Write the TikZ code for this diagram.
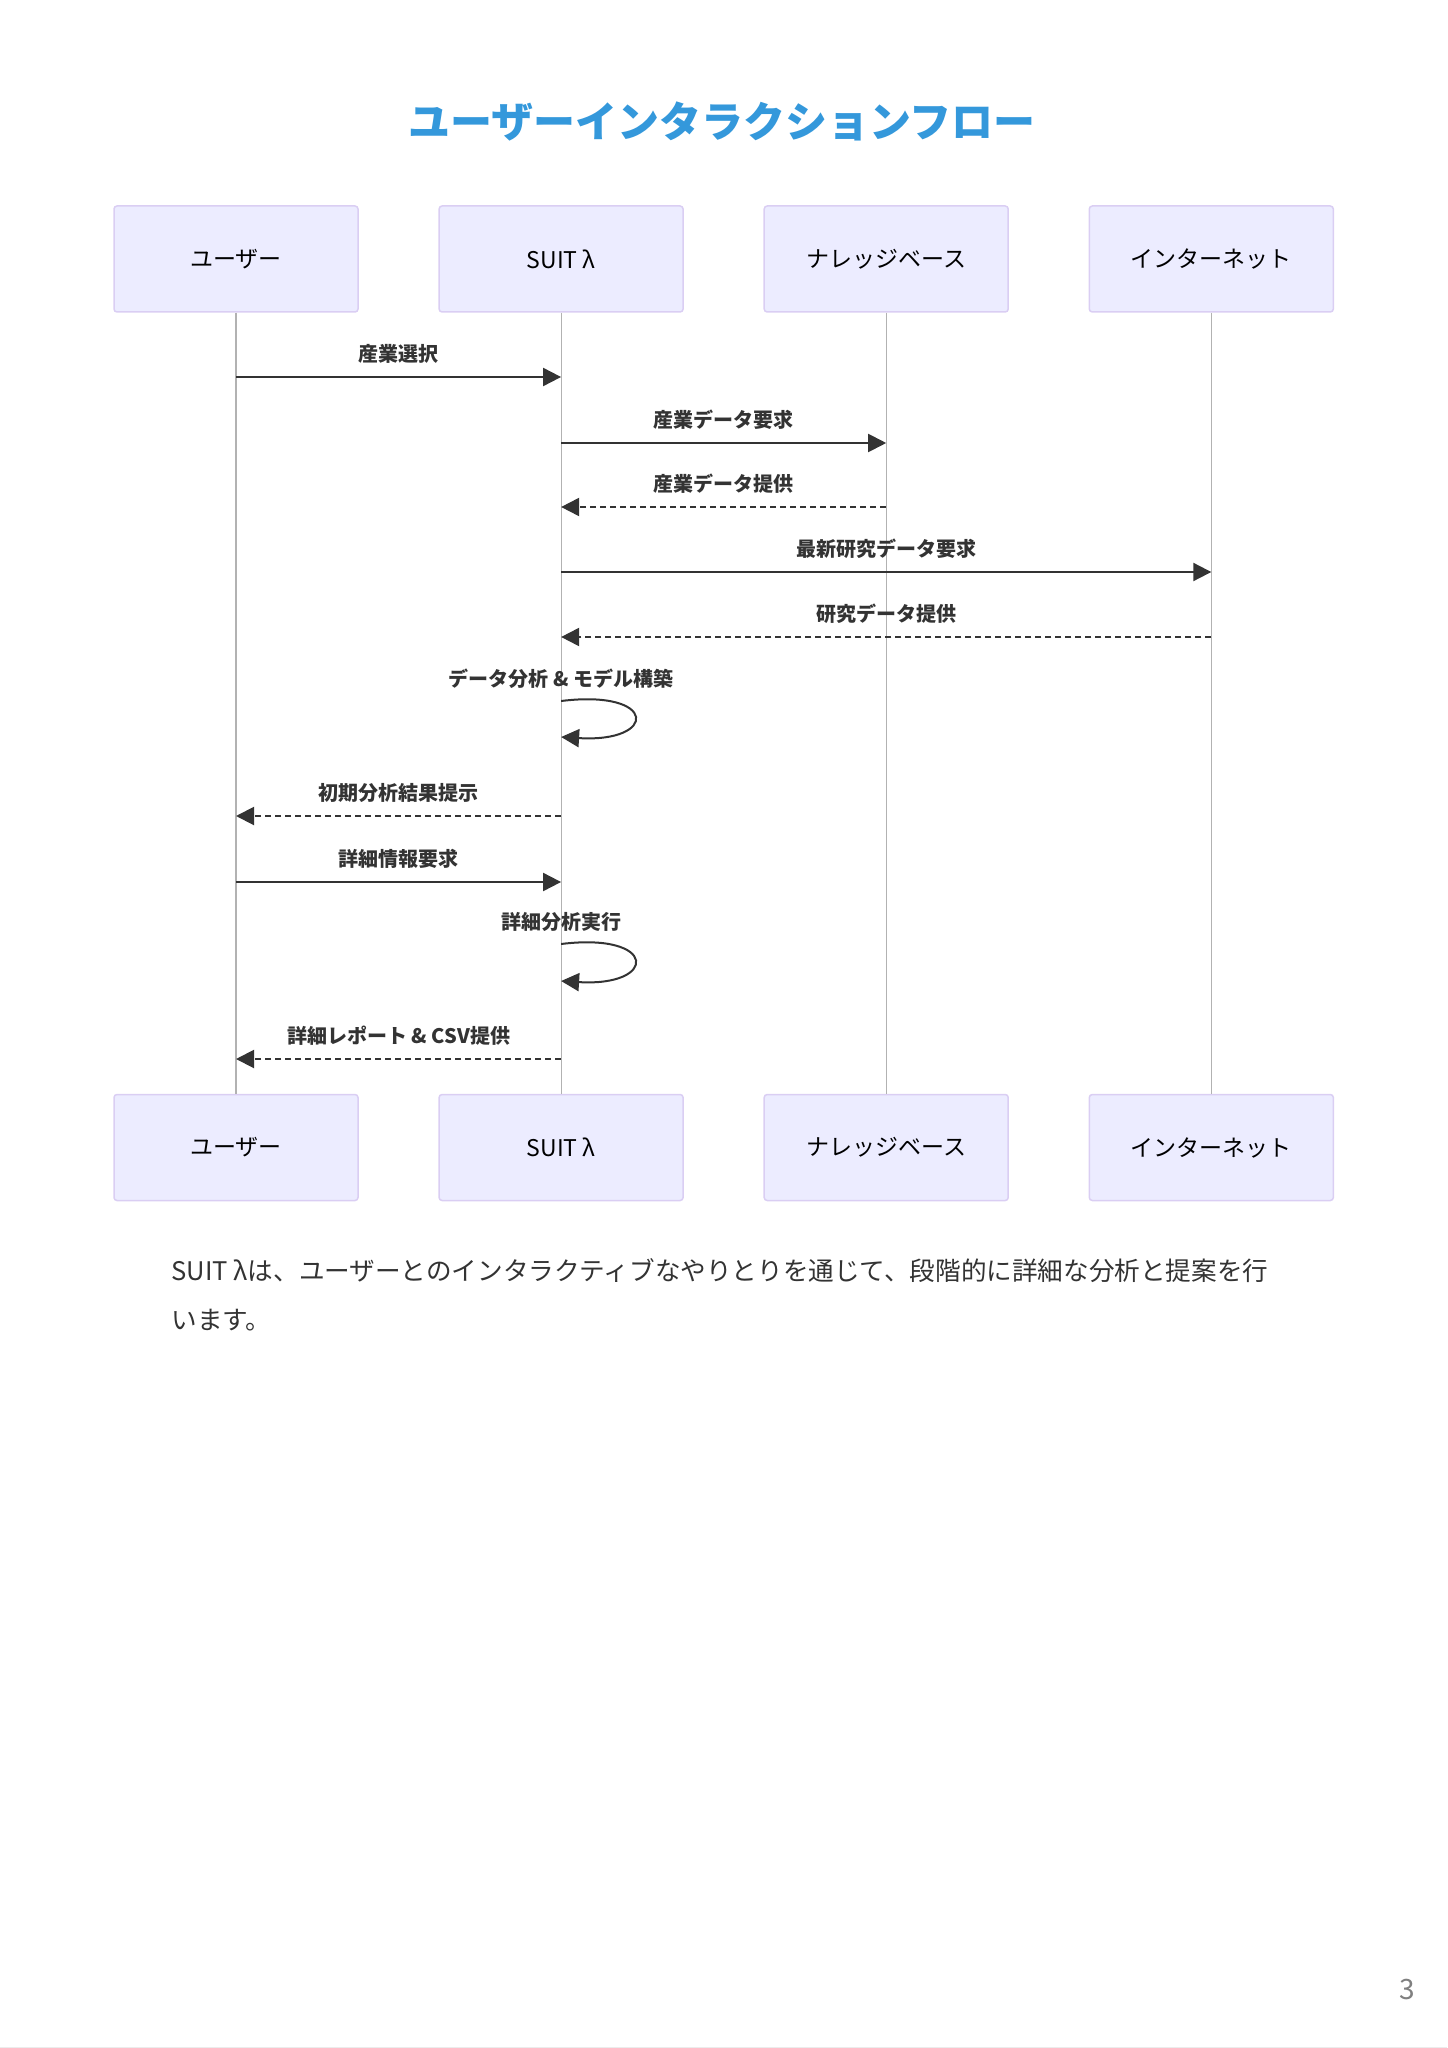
\documentclass[tikz,border=0pt]{standalone}
\usepackage{fontspec}
\setmainfont{Noto Sans CJK JP}
\usetikzlibrary{positioning, arrows.meta}
\definecolor{titleblue}{RGB}{52,152,219}
\definecolor{actorfill}{RGB}{236,236,255}
\definecolor{actorline}{RGB}{218,206,243}
\definecolor{msgcolor}{RGB}{51,51,51}

\begin{document}
\begin{tikzpicture}[x=0.5pt, y=-0.5pt,
        actor/.style={draw=actorline, fill=actorfill, line width=0.75pt, rounded corners=1.5pt,
            minimum width=122pt, minimum height=53pt, font=\fontsize{11.5pt}{14pt}\selectfont},
        lifeline/.style={draw=gray!60, line width=0.6pt},
        msg/.style={draw=msgcolor, line width=1pt, -{Triangle[length=9pt,width=9pt]}},
        reply/.style={msg, dash pattern=on 3pt off 2pt},
        msgtext/.style={font=\bfseries\fontsize{10pt}{12pt}\selectfont, text=msgcolor, yshift=11.5pt}]
        \useasboundingbox (0,0) rectangle (1447,2048);
        \node[font=\bfseries\fontsize{21pt}{25pt}\selectfont, text=titleblue] (t) at (722,121){ユーザーインタラクションフロー};
        \node[actor] (n1) at (236,259){ユーザー};
        \node[actor, right=39.8pt of n1] (n2){SUIT λ};
        \node[actor, right=39.8pt of n2] (n3){ナレッジベース};
        \node[actor, right=39.8pt of n3] (n4){インターネット};
        \node[actor, below=390.5pt of n1] (n5){ユーザー};
        \node[actor, below=390.5pt of n2] (n6){SUIT λ};
        \node[actor, below=390.5pt of n3] (n7){ナレッジベース};
        \node[actor, below=390.5pt of n4] (n8){インターネット};
        \draw[lifeline] (n1) -- (n5);
        \draw[lifeline] (n2) -- (n6);
        \draw[lifeline] (n3) -- (n7);
        \draw[lifeline] (n4) -- (n8);
        \coordinate (m1a) at (n1 |- 0,377); \coordinate (m1b) at (n2 |- 0,377);
        \coordinate (m2a) at (n2 |- 0,443); \coordinate (m2b) at (n3 |- 0,443);
        \coordinate (m3a) at (n3 |- 0,507); \coordinate (m3b) at (n2 |- 0,507);
        \coordinate (m4a) at (n2 |- 0,572); \coordinate (m4b) at (n4 |- 0,572);
        \coordinate (m5a) at (n4 |- 0,637); \coordinate (m5b) at (n2 |- 0,637);
        \coordinate (m6a) at (n2 |- 0,701); \coordinate (m6b) at (n2 |- 0,737);
        \coordinate (m7a) at (n2 |- 0,816); \coordinate (m7b) at (n1 |- 0,816);
        \coordinate (m8a) at (n1 |- 0,882); \coordinate (m8b) at (n2 |- 0,882);
        \coordinate (m9a) at (n2 |- 0,944); \coordinate (m9b) at (n2 |- 0,981);
        \coordinate (m10a) at (n2 |- 0,1059); \coordinate (m10b) at (n1 |- 0,1059);
        \draw[msg] (m1a) -- node[msgtext] (l1){産業選択} (m1b);
        \draw[msg] (m2a) -- node[msgtext] (l2){産業データ要求} (m2b);
        \draw[reply] (m3a) -- node[msgtext] (l3){産業データ提供} (m3b);
        \draw[msg] (m4a) -- node[msgtext] (l4){最新研究データ要求} (m4b);
        \draw[reply] (m5a) -- node[msgtext] (l5){研究データ提供} (m5b);
        \node[msgtext, yshift=-0.5pt] (l6) at (m6a){データ分析 \& モデル構築};
        \draw[msg] (m6a) .. controls +(97,-12) and +(97,6) .. (m6b);
        \draw[reply] (m7a) -- node[msgtext] (l7){初期分析結果提示} (m7b);
        \draw[msg] (m8a) -- node[msgtext] (l8){詳細情報要求} (m8b);
        \node[msgtext, yshift=-0.5pt] (l9) at (m9a){詳細分析実行};
        \draw[msg] (m9a) .. controls +(97,-12) and +(97,6) .. (m9b);
        \draw[reply] (m10a) -- node[msgtext] (l10){詳細レポート \& CSV提供} (m10b);
        \node[anchor=west, align=left, inner sep=0pt, text=msgcolor,
            font=\fontsize{12.8pt}{24.5pt}\selectfont] (cap) at (171,1295){SUIT λは、ユーザーとのインタラクティブなやりとりを通じて、段階的に詳細な分析と提案を行\\います。};
        \node[text=gray, font=\fontsize{14pt}{16pt}\selectfont] (pg) at (1407,1989){3};
        \draw[gray!15, line width=0.5pt] (0,2047) -- (1447,2047);
        \end{tikzpicture}
\end{document}
